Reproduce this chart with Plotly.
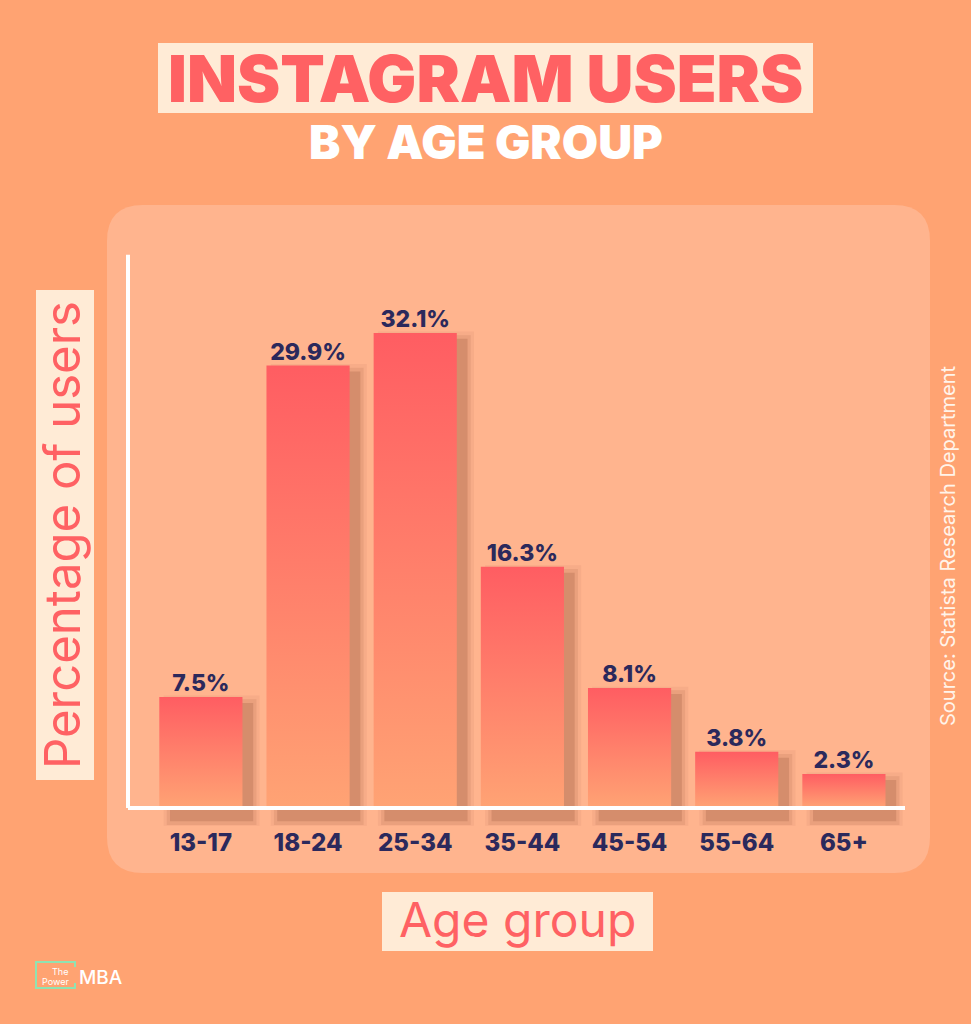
import plotly.graph_objects as go

# ---------------- data ----------------
categories = ["13-17", "18-24", "25-34", "35-44", "45-54", "55-64", "65+"]
shares = [7.5, 29.9, 32.1, 16.3, 8.1, 3.8, 2.3]
value_labels = ["7.5%", "29.9%", "32.1%", "16.3%", "8.1%", "3.8%", "2.3%"]

title_main = "INSTAGRAM USERS"
title_sub = "BY AGE GROUP"
y_title = "Percentage of users"
x_title = "Age group"
source_text = "Source: Statista Research Department"

# ---------------- style constants ----------------
W, H = 971, 1024
BG = "#FFA372"
PANEL = "#FFB48E"
CREAM = "#FFEBD6"
RED = "#FF6163"
NAVY = "#2B295C"
FONT = "Inter, Lato, 'Noto Sans', sans-serif"

BAR_W = 0.776
X_RANGE = [-0.68, 6.57]
Y_RANGE = [-1.2, 37.4]
PX_PER_UNIT = 14.8
ZERO_PX = 808


def px(x):
    return x / W


def py(y):
    return 1 - y / H


y_bottom_px = ZERO_PX - Y_RANGE[0] * PX_PER_UNIT
y_top_px = ZERO_PX - Y_RANGE[1] * PX_PER_UNIT

fig = go.Figure()
idx = list(range(len(categories)))

# shadows behind bars
shadow_layers = [(0.06, 0.5, 0.07), (0.03, 0.25, 0.12), (0.0, 0.0, 0.22)]
for i, v in zip(idx, shares):
    for gx, gy, a in shadow_layers:
        x0 = i - BAR_W / 2 + 0.10 - gx
        x1 = i + BAR_W / 2 + 0.10 + gx
        y0 = -0.9 - gy
        y1 = v - 0.4 + gy
        fig.add_trace(go.Scatter(
            x=[x0, x1, x1, x0, x0], y=[y0, y0, y1, y1, y0],
            fill="toself", mode="lines", line=dict(width=0),
            fillcolor=f"rgba(140,75,50,{a})", hoverinfo="skip", showlegend=False))

# gradient bars
for i, v, c in zip(idx, shares, categories):
    x0 = i - BAR_W / 2
    x1 = i + BAR_W / 2
    fig.add_trace(go.Scatter(
        x=[x0, x1, x1, x0, x0], y=[0, 0, v, v, 0],
        fill="toself", mode="lines", line=dict(width=0),
        fillgradient=dict(type="vertical",
                          colorscale=[[0, "#FFA374"], [1, "#FF5D62"]]),
        name=c, hoverinfo="skip", showlegend=False))

# value labels
fig.add_trace(go.Scatter(
    x=idx, y=shares, mode="text", text=value_labels,
    textposition="top center",
    textfont=dict(family=FONT, size=23, color=NAVY, weight=800),
    hovertemplate="%{text}<extra></extra>", showlegend=False, cliponaxis=False))

# ---------------- shapes ----------------
shapes = []
# rounded panel
l, r, t, b, rad = 107, 930, 205, 873, 36
rx, ry = rad / W, rad / H
L, R, T, B = px(l), px(r), py(t), py(b)
path = (f"M {L+rx},{T} L {R-rx},{T} Q {R},{T} {R},{T-ry} "
        f"L {R},{B+ry} Q {R},{B} {R-rx},{B} L {L+rx},{B} "
        f"Q {L},{B} {L},{B+ry} L {L},{T-ry} Q {L},{T} {L+rx},{T} Z")
shapes.append(dict(type="path", path=path, xref="paper", yref="paper",
                   fillcolor=PANEL, line=dict(width=0), layer="below"))
# title box
shapes.append(dict(type="rect", xref="paper", yref="paper",
                   x0=px(158), x1=px(813), y0=py(113), y1=py(43),
                   fillcolor=CREAM, line=dict(width=0), layer="below"))
# y title box
shapes.append(dict(type="rect", xref="paper", yref="paper",
                   x0=px(36), x1=px(94), y0=py(780), y1=py(290),
                   fillcolor=CREAM, line=dict(width=0), layer="below"))
# x title box
shapes.append(dict(type="rect", xref="paper", yref="paper",
                   x0=px(382), x1=px(653), y0=py(951), y1=py(892),
                   fillcolor=CREAM, line=dict(width=0), layer="below"))
# axis lines
shapes.append(dict(type="line", xref="x domain", yref="y", x0=0, x1=1, y0=0, y1=0,
                   line=dict(color="white", width=4), layer="above"))
shapes.append(dict(type="line", xref="x domain", yref="y", x0=0, x1=0, y0=0, y1=Y_RANGE[1],
                   line=dict(color="white", width=4), layer="above"))
# logo bracket
bp = (f"M {px(75)},{py(967)} L {px(75)},{py(962)} L {px(36)},{py(962)} "
      f"L {px(36)},{py(988)} L {px(75)},{py(988)} L {px(75)},{py(983)}")
shapes.append(dict(type="path", path=bp, xref="paper", yref="paper",
                   line=dict(color="#8FE3B2", width=2)))

# ---------------- annotations ----------------
ann = [
    dict(text=title_main, x=px(486), y=py(78), font=dict(family=FONT, size=65, color=RED, weight=900)),
    dict(text=title_sub, x=px(486), y=py(141), font=dict(family=FONT, size=47, color="white", weight=900)),
    dict(text=y_title, x=px(62), y=py(535), textangle=-90, font=dict(family=FONT, size=49, color=RED)),
    dict(text=x_title, x=px(517), y=py(919), font=dict(family=FONT, size=48, color=RED)),
    dict(text=source_text, x=px(948), y=py(546), textangle=-90, font=dict(family=FONT, size=20, color="#FFF4EA")),
    dict(text="The", x=px(70), y=py(971), xanchor="right", font=dict(family=FONT, size=9, color="white")),
    dict(text="Power", x=px(71), y=py(981), xanchor="right", font=dict(family=FONT, size=9, color="white")),
    dict(text="MBA", x=px(77), y=py(977), xanchor="left", font=dict(family=FONT, size=19, color="white", weight=500)),
]
annotations = []
for a in ann:
    a.setdefault("xanchor", "center")
    a.update(xref="paper", yref="paper", yanchor="middle", showarrow=False)
    annotations.append(a)

fig.update_layout(
    width=W, height=H,
    margin=dict(l=0, r=0, t=0, b=0, pad=0),
    paper_bgcolor=BG, plot_bgcolor="rgba(0,0,0,0)",
    shapes=shapes, annotations=annotations,
    showlegend=False,
    xaxis=dict(domain=[px(128), px(905)], range=X_RANGE, tickmode="array",
               tickvals=idx, ticktext=categories, showgrid=False, zeroline=False,
               showline=False, ticks="", ticklabelstandoff=0,
               tickfont=dict(family=FONT, size=24, color=NAVY, weight=800),
               fixedrange=True),
    yaxis=dict(domain=[py(y_bottom_px), py(y_top_px)], range=Y_RANGE,
               showgrid=False, zeroline=False, showline=False,
               showticklabels=False, ticks="", fixedrange=True),
)

fig.write_html("out.html", config={"displayModeBar": False},
               post_script="document.body.style.margin='0';document.body.style.overflow='hidden';")
